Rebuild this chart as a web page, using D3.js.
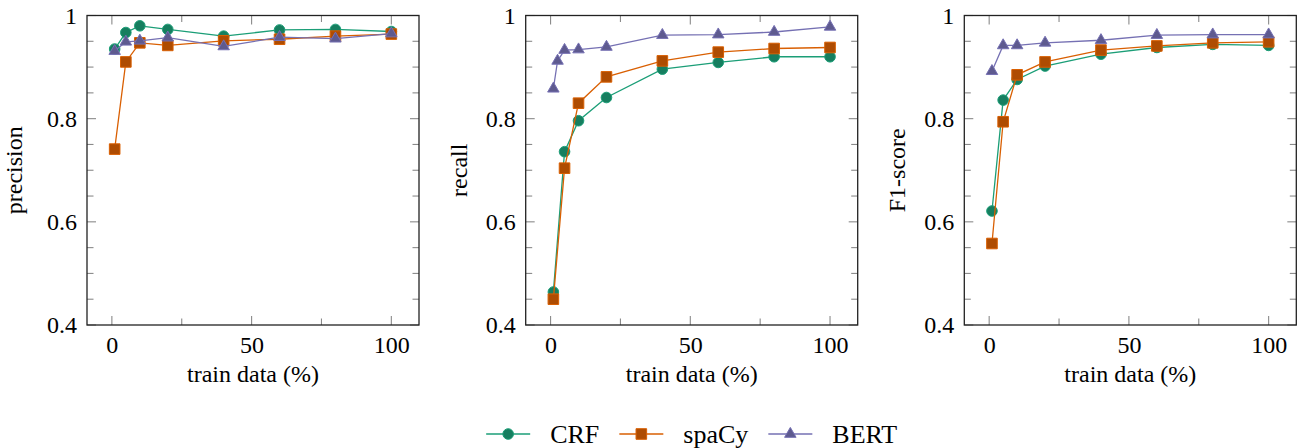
<!DOCTYPE html>
<html>
<head>
<meta charset="utf-8">
<script src="https://cdn.jsdelivr.net/npm/d3@7"></script>
<style>
  body { margin: 0; background: #fff; }
</style>
</head>
<body>
<svg width="1306" height="448"></svg>
<script>
'use strict'

// data
const trainPct = [1, 5, 10, 20, 40, 60, 80, 100];
const trainPctBertRecall = [1, 2.5, 5, 10, 20, 40, 60, 80, 100];

const precisionCRF   = [0.935, 0.967, 0.980, 0.973, 0.960, 0.972, 0.973, 0.969];
const precisionSpacy = [0.741, 0.910, 0.947, 0.942, 0.951, 0.954, 0.960, 0.964];
const precisionBERT  = [0.931, 0.949, 0.951, 0.957, 0.940, 0.958, 0.955, 0.965];

const recallCRF   = [0.464, 0.736, 0.796, 0.841, 0.896, 0.909, 0.920, 0.920];
const recallSpacy = [0.450, 0.704, 0.830, 0.881, 0.912, 0.929, 0.936, 0.938];
const recallBERT  = [0.858, 0.912, 0.933, 0.934, 0.939, 0.962, 0.963, 0.968, 0.978];

const f1CRF   = [0.621, 0.836, 0.876, 0.902, 0.925, 0.938, 0.944, 0.942];
const f1Spacy = [0.558, 0.794, 0.885, 0.910, 0.933, 0.941, 0.947, 0.949];
const f1BERT  = [0.892, 0.942, 0.942, 0.947, 0.952, 0.962, 0.963, 0.963];

const seriesNames = ['CRF', 'spaCy', 'BERT'];
const yTicks = [0.4, 0.6, 0.8, 1];
const yMinorTicks = [0.45, 0.5, 0.55, 0.65, 0.7, 0.75, 0.85, 0.9, 0.95];
const xTicks = [0, 50, 100];
const xMinorTicks = [25, 75];

const colors = { CRF: '#1b9e77', spaCy: '#d95f02', BERT: '#7570b3' };
const markers = { CRF: 'circle', spaCy: 'square', BERT: 'triangle' };
const FONT = '"Liberation Serif"';

const panels = [
  { label: 'precision', labelOffset: 65, series: [
      { name: 'CRF', x: trainPct, y: precisionCRF },
      { name: 'spaCy', x: trainPct, y: precisionSpacy },
      { name: 'BERT', x: trainPct, y: precisionBERT }] },
  { label: 'recall', labelOffset: 59, series: [
      { name: 'CRF', x: trainPct, y: recallCRF },
      { name: 'spaCy', x: trainPct, y: recallSpacy },
      { name: 'BERT', x: trainPctBertRecall, y: recallBERT }] },
  { label: 'F1-score', labelOffset: 59, series: [
      { name: 'CRF', x: trainPct, y: f1CRF },
      { name: 'spaCy', x: trainPct, y: f1Spacy },
      { name: 'BERT', x: trainPct, y: f1BERT }] }
];

const svg = d3.select('svg').style('font-family', FONT);
const panelLefts = [87, 525.7, 964.3];
const W = 332, H = 309.5, TOP = 15.5;

const x = d3.scaleLinear().domain([-8.9, 109.9]).range([0, W]);
const y = d3.scaleLinear().domain([0.4, 1]).range([H, 0]);

function markerPath(kind, s) {
  if (kind === 'circle') return d3.symbol(d3.symbolCircle, Math.PI * s * s)();
  if (kind === 'square') return d3.symbol(d3.symbolSquare, 4 * s * s)();
  const r = s * 1.25;
  return `M0,${-r}L${r * 0.866},${r * 0.5}L${-r * 0.866},${r * 0.5}Z`;
}

function drawMark(g, kind, color, cx, cy) {
  g.append('path')
    .attr('d', markerPath(kind, 5.3))
    .attr('transform', `translate(${cx},${cy})`)
    .attr('fill', d3.interpolateRgb(color, '#000')(0.2))
    .attr('stroke', color)
    .attr('stroke-width', 1);
}

function serif(sel, size) {
  return sel.style('font-family', FONT).style('font-size', size + 'px').attr('fill', '#000');
}

panels.forEach((p, i) => {
  const g = svg.append('g').attr('transform', `translate(${panelLefts[i]},${TOP})`);

  // ticks, pointing inward on all four sides
  const tk = g.append('g').attr('stroke', '#8a8a8a').attr('stroke-width', 1.1);
  const yt = yTicks.map(v => [v, 9]).concat(yMinorTicks.map(v => [v, 6.5]));
  yt.forEach(([v, len]) => {
    tk.append('line').attr('x1', 0).attr('x2', len).attr('y1', y(v)).attr('y2', y(v));
    tk.append('line').attr('x1', W).attr('x2', W - len).attr('y1', y(v)).attr('y2', y(v));
  });
  const xt = xTicks.map(v => [v, 9]).concat(xMinorTicks.map(v => [v, 6.5]));
  xt.forEach(([v, len]) => {
    tk.append('line').attr('x1', x(v)).attr('x2', x(v)).attr('y1', H).attr('y2', H - len);
    tk.append('line').attr('x1', x(v)).attr('x2', x(v)).attr('y1', 0).attr('y2', len);
  });

  // frame
  g.append('rect').attr('width', W).attr('height', H)
    .attr('fill', 'none').attr('stroke', '#222').attr('stroke-width', 1.3);

  // tick labels via axes
  const yAxis = d3.axisLeft(y).tickValues(yTicks).tickSize(0).tickPadding(10)
    .tickFormat(d => d === 1 ? '1' : d.toFixed(1));
  const ya = g.append('g').call(yAxis).attr('font-family', null).attr('font-size', null);
  ya.select('.domain').remove();
  serif(ya.selectAll('text'), 24).attr('dy', '0.33em');

  const xAxis = d3.axisBottom(x).tickValues(xTicks).tickSize(0).tickPadding(0)
    .tickFormat(d3.format('d'));
  const xa = g.append('g').attr('transform', `translate(0,${H})`).call(xAxis)
    .attr('font-family', null).attr('font-size', null);
  xa.select('.domain').remove();
  serif(xa.selectAll('text'), 24).attr('dy', null).attr('y', 28);

  // axis labels
  serif(g.append('text'), 24).attr('x', W / 2).attr('y', H + 57).attr('text-anchor', 'middle')
    .text('train data (%)');
  serif(g.append('text'), 24).attr('text-anchor', 'middle')
    .attr('transform', `translate(${-p.labelOffset},${H / 2}) rotate(-90)`)
    .text(p.label);

  // series
  const line = d3.line().x(d => x(d[0])).y(d => y(d[1]));
  p.series.forEach(s => {
    const pts = s.x.map((v, k) => [v, s.y[k]]);
    g.append('path').datum(pts).attr('d', line)
      .attr('fill', 'none').attr('stroke', colors[s.name]).attr('stroke-width', 1.3);
    pts.forEach(d => drawMark(g, markers[s.name], colors[s.name], x(d[0]), y(d[1])));
  });
});

// legend, centred under the middle panel
const leg = svg.append('g');
const legY = 434, lineLen = 44, gap = 20;
const widths = seriesNames.map(n => {
  const t = serif(leg.append('text'), 26).text(n);
  const w = t.node().getComputedTextLength();
  t.remove();
  return w;
});
const total = d3.sum(widths) + seriesNames.length * (lineLen + gap) + (seriesNames.length - 1) * gap;
let cx = panelLefts[1] + W / 2 - total / 2;
seriesNames.forEach((n, k) => {
  leg.append('line').attr('x1', cx).attr('x2', cx + lineLen).attr('y1', legY).attr('y2', legY)
    .attr('stroke', colors[n]).attr('stroke-width', 1.3);
  drawMark(leg, markers[n], colors[n], cx + lineLen / 2, legY);
  cx += lineLen + gap;
  serif(leg.append('text'), 26).attr('x', cx).attr('y', legY + 9).text(n);
  cx += widths[k] + gap;
});
</script>
</body>
</html>
